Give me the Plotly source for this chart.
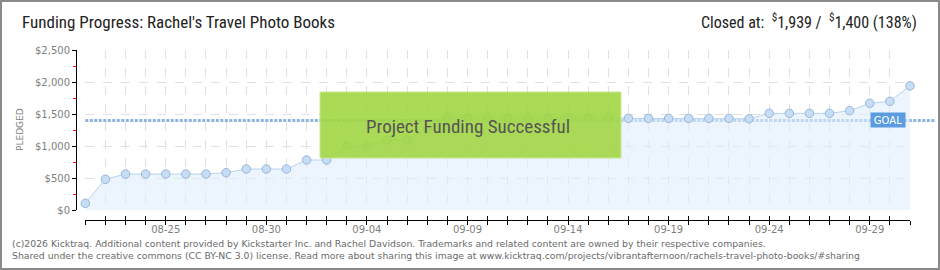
import plotly.graph_objects as go
import pandas as pd

# ---------------- data ----------------
start_date = "2025-08-21"
n_days = 42
dates = pd.date_range(start_date, periods=n_days, freq="D")
pledged = [104, 480, 562, 562, 562, 562, 562, 583, 640, 640, 640, 781, 781,
           1000, 1000, 1094, 1094, 1260, 1445, 1445, 1445, 1445, 1445, 1445,
           1445, 1445, 1445, 1432, 1432, 1432, 1432, 1432, 1432, 1425, 1510,
           1510, 1510, 1510, 1552, 1667, 1698, 1939]
goal = 1400
closed_at = 1939
percent = 138
label_dates = list(dates[4::5])
tick_labels = [d.strftime("%m-%d") for d in label_dates]
y_ticks = [0, 500, 1000, 1500, 2000, 2500]

title = "Funding Progress: Rachel's Travel Photo Books"
footer1 = ("(c)2026 Kicktraq. Additional content provided by Kickstarter Inc. and Rachel Davidson. "
           "Trademarks and related content are owned by their respective companies.")
footer2 = ("Shared under the creative commons (CC BY-NC 3.0) license. Read more about sharing this image at "
           "www.kicktraq.com/projects/vibrantafternoon/rachels-travel-photo-books/#sharing")

# ---------------- layout helpers ----------------
W, H = 940, 270
L, R, T, B = 76, 30, 50, 50
PW, PH = W - L - R, H - T - B


def px(x):
    return (x - L) / PW


def py(y):
    return (H - B - y) / PH


TICKFONT = dict(family="DejaVu Sans", size=10, color="#808080")
NARROW = "Liberation Sans Narrow, Roboto Condensed, Roboto, sans-serif"

fig = go.Figure()
fig.add_trace(go.Scatter(
    x=dates, y=pledged, mode="lines+markers",
    fill="tozeroy", fillcolor="rgba(223,236,252,0.6)",
    line=dict(color="#b8d3f1", width=1),
    marker=dict(size=8.5, color="#c6ddf6", line=dict(color="#9ab5d6", width=1)),
    cliponaxis=False, hoverinfo="skip", showlegend=False,
))
# invisible traces binding the extra tick axes
for ax in ("x2", "x3"):
    fig.add_trace(go.Scatter(x=[dates[0]], y=[0], xaxis=ax, yaxis="y",
                             mode="markers", marker=dict(opacity=0),
                             showlegend=False, hoverinfo="skip"))

xcommon = dict(range=[dates[0], dates[-1]], domain=[px(85.3), 1],
               anchor="free", position=0, zeroline=False)
fig.update_layout(
    width=W, height=H, autosize=False,
    margin=dict(l=L, r=R, t=T, b=B, pad=0),
    paper_bgcolor="white", plot_bgcolor="white",
    xaxis=dict(**xcommon, tickvals=label_dates, ticktext=tick_labels,
               ticks="outside", ticklen=4, tickcolor="#000", tickwidth=1,
               showline=True, linecolor="#000", linewidth=1, showgrid=False,
               tickfont=TICKFONT, ticklabelstandoff=-4),
    xaxis2=dict(**xcommon, overlaying="x", tickvals=list(dates), ticks="inside", ticklen=4,
                tickcolor="#000", showticklabels=False, showline=False,
                showgrid=True, gridcolor="#e0e0e0", griddash="dash", gridwidth=1),
    xaxis3=dict(**xcommon, overlaying="x", tickvals=list(dates), ticks="outside", ticklen=4,
                tickcolor="#000", showticklabels=False, showline=False, showgrid=False),
    yaxis=dict(range=[0, 2500], domain=[py(210), 1], anchor="free", position=0,
               tickvals=y_ticks, tickformat="$,.0f", ticks="outside", ticklen=4,
               tickcolor="#000", showline=True, linecolor="#000", linewidth=1,
               showgrid=True, gridcolor="#e0e0e0", griddash="dash", zeroline=False,
               tickfont=TICKFONT,
               minor=dict(ticks="outside", ticklen=3, tickcolor="#ff0000", dtick=250,
                          showgrid=False)),
)

# goal line
fig.add_shape(type="line", xref="paper", yref="y", x0=px(85.3), x1=px(936), y0=goal, y1=goal,
              line=dict(color="#8db3de", width=3, dash="3px,1.5px"), layer="below")
fig.add_annotation(xref="paper", yref="y", x=px(888), y=goal, xanchor="center", yanchor="middle",
                   text="GOAL", showarrow=False,
                   font=dict(family="DejaVu Sans", size=10, color="white"),
                   bgcolor="#5b9be0", borderpad=1, width=32, height=12)

# success box
fig.add_shape(type="rect", xref="paper", yref="paper", x0=px(320), x1=px(621),
              y0=py(158), y1=py(92), fillcolor="#a2d744", opacity=0.9,
              line=dict(color="#c4e68b", width=1), layer="above")
fig.add_annotation(xref="paper", yref="paper", x=px(468), y=py(127), xanchor="center",
                   yanchor="middle", text="Project Funding Successful", showarrow=False,
                   font=dict(family=NARROW, size=19, color="#555555"))

# titles
fig.add_annotation(xref="paper", yref="paper", x=px(20), y=py(22), xanchor="left", yanchor="middle",
                   text=title, showarrow=False, font=dict(family=NARROW, size=17, color="#222"))
fig.add_annotation(xref="paper", yref="paper", x=px(919), y=py(22), xanchor="right", yanchor="middle",
                   text=f"Closed at:  <sup>$</sup>{closed_at:,} /  <sup>$</sup>{goal:,} ({percent}%)",
                   showarrow=False, font=dict(family=NARROW, size=16, color="#222"))
fig.add_annotation(xref="paper", yref="paper", x=px(20), y=py(130), xanchor="center",
                   yanchor="middle", textangle=-90, text="PLEDGED", showarrow=False,
                   font=dict(family="DejaVu Sans", size=9, color="#808080"))

# footer
for i, line in enumerate([footer1, footer2]):
    fig.add_annotation(xref="paper", yref="paper", x=px(10), y=py(243 + 12 * i),
                       xanchor="left", yanchor="middle", text=line, showarrow=False,
                       font=dict(family="DejaVu Sans", size=9.3, color="#6a6a6a"))

# frame
fig.add_shape(type="rect", xref="paper", yref="paper", x0=px(1), x1=px(939), y0=py(269), y1=py(1),
              line=dict(color="#8a8a8a", width=2), layer="above")

fig.write_html("out.html")
